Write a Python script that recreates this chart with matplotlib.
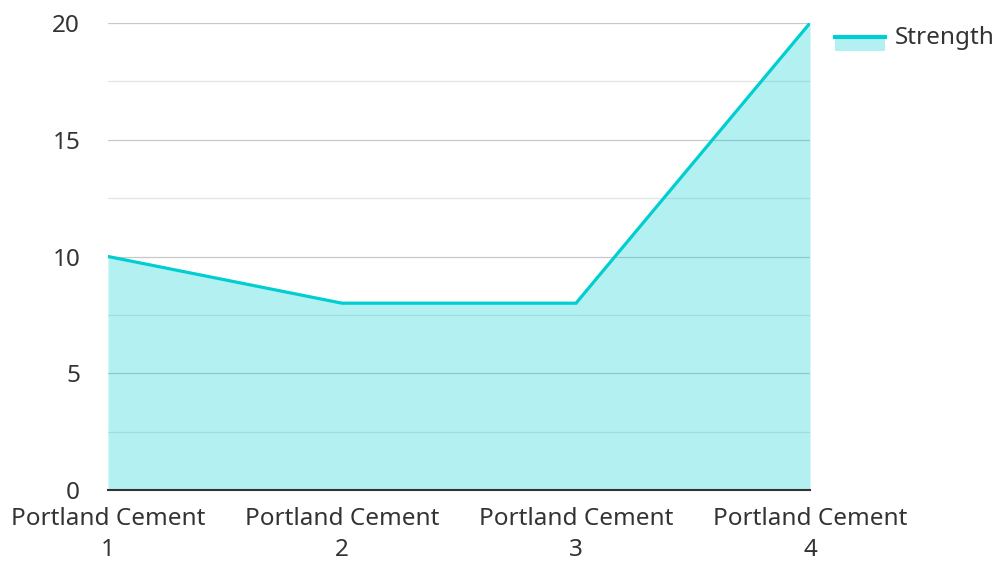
import matplotlib
matplotlib.use('Agg')
import matplotlib.pyplot as plt
from matplotlib.legend_handler import HandlerBase
from matplotlib.lines import Line2D
from matplotlib.patches import Rectangle

categories = ['Portland Cement\n1', 'Portland Cement\n2', 'Portland Cement\n3', 'Portland Cement\n4']
strength = [10, 8, 8, 20]
major_ticks = [0, 5, 10, 15, 20]
minor_ticks = [2.5, 7.5, 12.5, 17.5]

color = '#00CED1'
text_color = '#333333'
fs = 17.5

plt.rcParams['font.family'] = ['Noto Sans', 'DejaVu Sans']


class AreaHandler(HandlerBase):
    # line on top, light area hanging below it
    def create_artists(self, legend, orig_handle, xdescent, ydescent, width, height, fontsize, trans):
        top = height * 0.5
        rect = Rectangle((-xdescent, top - 11), width, 11, facecolor=color, alpha=0.3,
                         edgecolor='none', transform=trans)
        line = Line2D([-xdescent, -xdescent + width], [top - 1, top - 1], color=color,
                      linewidth=3, transform=trans)
        return [rect, line]


fig = plt.figure(figsize=(9.97, 5.62), dpi=100)
ax = fig.add_axes([108 / 997, 1 - 490 / 562, (810 - 108) / 997, (490 - 23) / 562])

x = list(range(len(categories)))
ax.fill_between(x, strength, 0, color=color, alpha=0.3, linewidth=0, zorder=2)
ax.plot(x, strength, color=color, linewidth=2.3, zorder=3, solid_joinstyle='miter')

ax.set_xlim(0, len(categories) - 1)
ax.set_ylim(0, 20)
ax.set_xticks(x)
ax.set_xticklabels(categories, fontsize=fs, color=text_color, linespacing=1.42)
ax.set_yticks(major_ticks)
ax.set_yticklabels([str(t) for t in major_ticks], fontsize=fs, color=text_color)
ax.set_yticks(minor_ticks, minor=True)
ax.tick_params(axis='both', which='both', length=0)
ax.tick_params(axis='y', pad=20)
ax.tick_params(axis='x', pad=12)

ax.grid(axis='y', which='major', color='#c8c8c8', linewidth=0.9, zorder=1)
ax.grid(axis='y', which='minor', color='#e4e4e4', linewidth=0.9, zorder=1)
ax.set_axisbelow(True)

for side in ['left', 'right', 'top']:
    ax.spines[side].set_visible(False)
ax.spines['bottom'].set_color('#333333')
ax.spines['bottom'].set_linewidth(1.5)
ax.spines['bottom'].set_zorder(4)

handle = object()
fig.legend([handle], ['Strength'], handler_map={object: AreaHandler()},
           loc='upper left', bbox_to_anchor=(835 / 997, 1 - 26 / 562),
           frameon=False, fontsize=fs, labelcolor=text_color, handlelength=2.06,
           handletextpad=0.41, borderaxespad=0, borderpad=0)

fig.savefig('out.png', dpi=100)
